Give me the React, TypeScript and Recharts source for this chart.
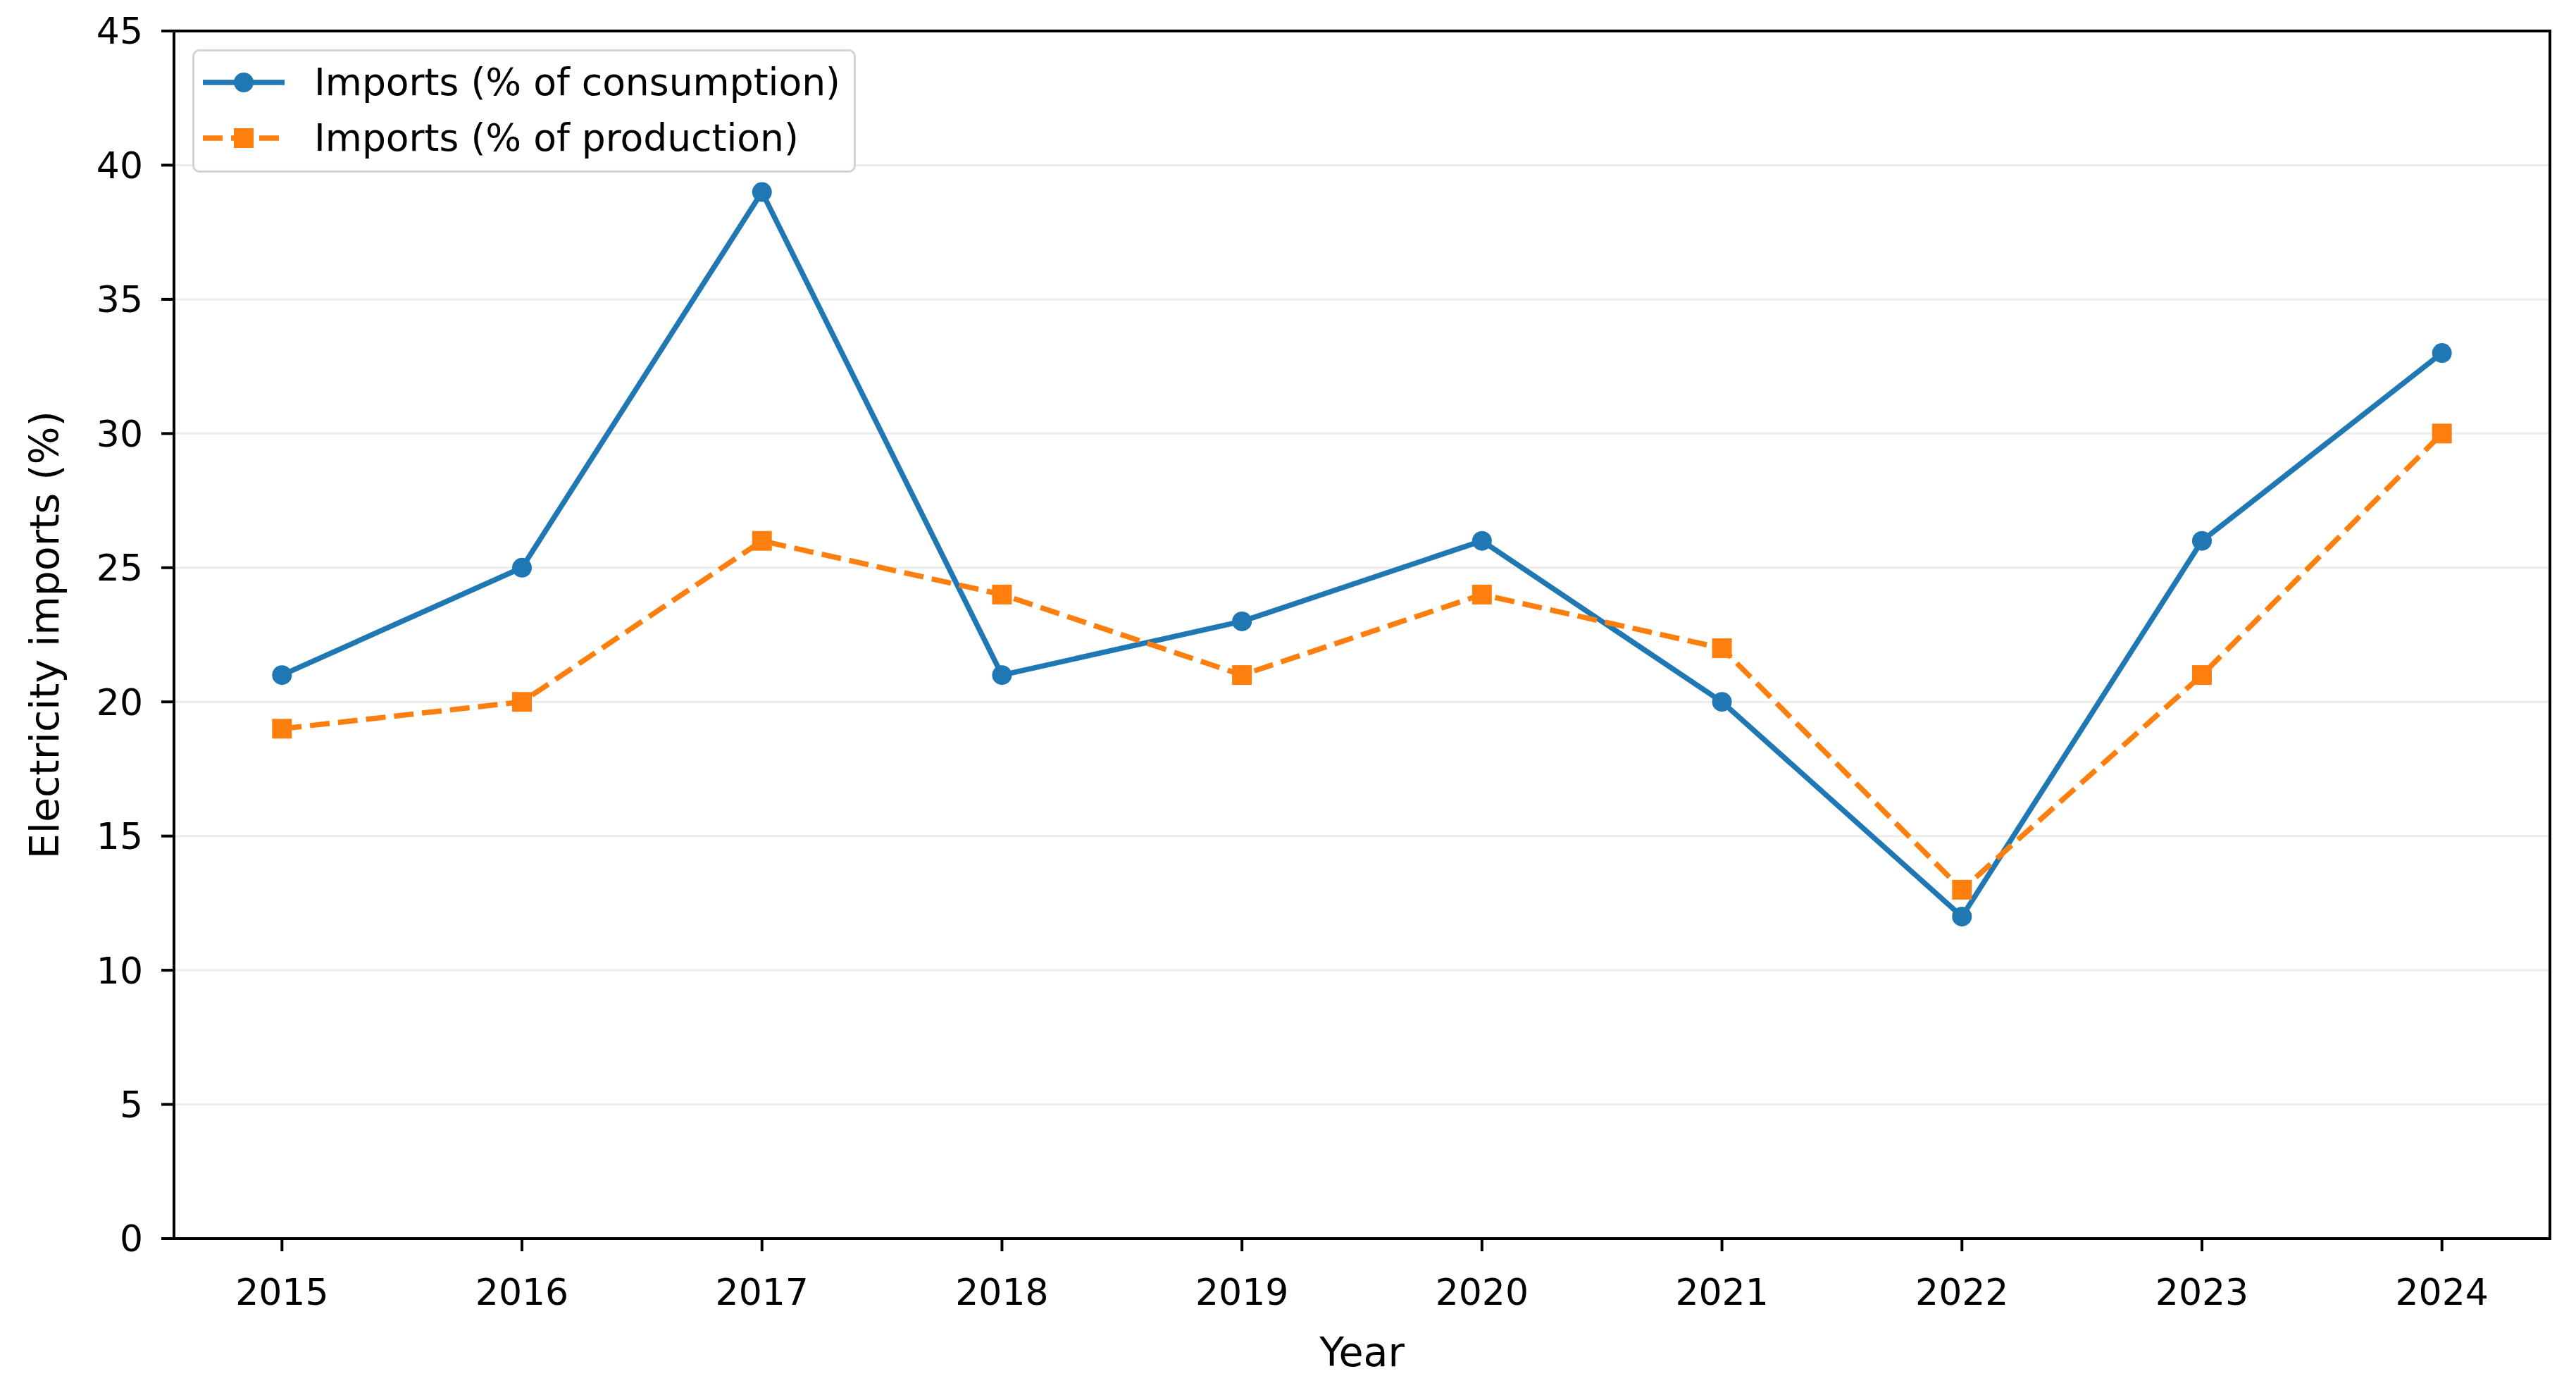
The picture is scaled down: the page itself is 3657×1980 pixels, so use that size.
import React from 'react';
import { LineChart, Line, XAxis, YAxis, CartesianGrid, ReferenceArea } from 'recharts';

const years = [2015, 2016, 2017, 2018, 2019, 2020, 2021, 2022, 2023, 2024];
const consumption = [21, 25, 39, 21, 23, 26, 20, 12, 26, 33];
const production = [19, 20, 26, 24, 21, 24, 22, 13, 21, 30];
const yTicks = [0, 5, 10, 15, 20, 25, 30, 35, 40, 45];
const seriesNames = ['Imports (% of consumption)', 'Imports (% of production)'];

const data = years.map((y, i) => ({ year: y, consumption: consumption[i], production: production[i] }));

const BLUE = '#1f77b4';
const ORANGE = '#ff7f0e';
const FONT = 'DejaVu Sans, sans-serif';
const xDomain = [2014.55, 2024.45];
const LW = 7.5;
const DASH = '28 12';

const SquareDot = (props: any) => {
  const { cx, cy, index } = props;
  if (cx == null || cy == null) return null;
  const s = 28;
  return <rect key={'sq' + index} x={cx - s / 2} y={cy - s / 2} width={s} height={s} fill={ORANGE} />;
};

const LegendBox = () => (
  <div
    style={{
      position: 'absolute',
      left: 273,
      top: 70,
      width: 942,
      height: 175,
      boxSizing: 'border-box',
      border: '3px solid #d4d4d4',
      borderRadius: 10,
      background: 'rgba(255,255,255,0.85)',
      fontFamily: FONT,
      fontSize: 53.5,
      color: '#000',
      paddingTop: 4,
    }}
  >
    <div style={{ display: 'flex', alignItems: 'center', height: 79 }}>
      <svg width={160} height={40} style={{ marginLeft: 10, flex: 'none' }}>
        <line x1={2} y1={20} x2={118} y2={20} stroke={BLUE} strokeWidth={LW} />
        <circle cx={60} cy={20} r={14} fill={BLUE} />
      </svg>
      <span style={{ whiteSpace: 'nowrap' }}>{seriesNames[0]}</span>
    </div>
    <div style={{ display: 'flex', alignItems: 'center', height: 79 }}>
      <svg width={160} height={40} style={{ marginLeft: 10, flex: 'none' }}>
        <line x1={2} y1={20} x2={118} y2={20} stroke={ORANGE} strokeWidth={LW} strokeDasharray={DASH} />
        <rect x={46} y={6} width={28} height={28} fill={ORANGE} />
      </svg>
      <span style={{ whiteSpace: 'nowrap' }}>{seriesNames[1]}</span>
    </div>
  </div>
);

const YLabel = (props: any) => {
  const vb = props.viewBox || {};
  const cy = (vb.y ?? 44) + (vb.height ?? 1714) / 2;
  return (
    <text x={63} y={cy} transform={`rotate(-90 63 ${cy})`} textAnchor="middle" dominantBaseline="central"
      fontFamily={FONT} fontSize={57} fill="#000">
      Electricity imports (%)
    </text>
  );
};

const XLabel = (props: any) => {
  const vb = props.viewBox || {};
  const cx = (vb.x ?? 247) + (vb.width ?? 3373) / 2;
  return (
    <text x={cx} y={1919} textAnchor="middle" dominantBaseline="central" fontFamily={FONT} fontSize={57} fill="#000">
      Year
    </text>
  );
};

export default function App() {
  return (
    <div style={{ position: 'absolute', left: 0, top: 0, width: 3657, height: 1980, background: '#fff' }}>
      <LineChart width={3657} height={1980} data={data} margin={{ top: 44, right: 37, left: 0, bottom: 0 }}>
        <CartesianGrid horizontal vertical={false} stroke="#ececec" strokeWidth={3} />
        <XAxis
          dataKey="year"
          type="number"
          domain={xDomain}
          ticks={years}
          allowDataOverflow
          height={222}
          tickSize={18}
          tickMargin={39}
          axisLine={{ stroke: '#000', strokeWidth: 4 }}
          tickLine={{ stroke: '#000', strokeWidth: 4 }}
          tick={{ fontFamily: FONT, fontSize: 52, fill: '#000' }}
          label={<XLabel />}
        />
        <YAxis
          type="number"
          domain={[0, 45]}
          ticks={yTicks}
          width={247}
          tickSize={18}
          tickMargin={26}
          axisLine={{ stroke: '#000', strokeWidth: 4 }}
          tickLine={{ stroke: '#000', strokeWidth: 4 }}
          tick={{ fontFamily: FONT, fontSize: 52, fill: '#000' }}
          label={<YLabel />}
        />
        <ReferenceArea x1={xDomain[0]} x2={xDomain[1]} y1={0} y2={45} fill="none" stroke="#000" strokeWidth={4} ifOverflow="visible" />
        <Line
          dataKey="consumption"
          name={seriesNames[0]}
          stroke={BLUE}
          strokeWidth={LW}
          dot={{ r: 14, fill: BLUE, stroke: BLUE, strokeWidth: 0 }}
          activeDot={false}
          isAnimationActive={false}
        />
        <Line
          dataKey="production"
          name={seriesNames[1]}
          stroke={ORANGE}
          strokeWidth={LW}
          strokeDasharray={DASH}
          dot={<SquareDot />}
          activeDot={false}
          isAnimationActive={false}
        />
      </LineChart>
      <LegendBox />
    </div>
  );
}
